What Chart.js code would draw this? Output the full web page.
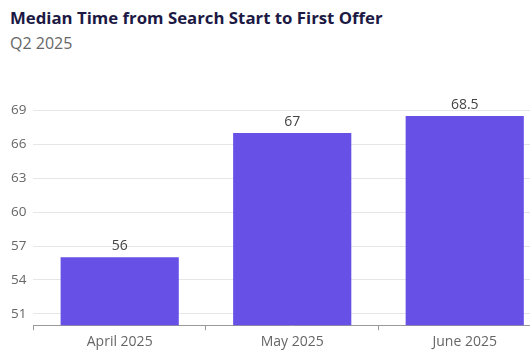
<!DOCTYPE html>
<html>
<head>
<meta charset="utf-8">
<script src="https://cdn.jsdelivr.net/npm/chart.js@4.4.1/dist/chart.umd.min.js"></script>
<style>
  html, body { margin: 0; padding: 0; width: 530px; height: 354px; overflow: hidden; background: #fff; font-family: "Open Sans", sans-serif; }
  #title { position: absolute; left: 10px; top: 6px; font-size: 16.8px; font-weight: 700; color: #1c1944; white-space: nowrap; }
  #subtitle { position: absolute; left: 10px; top: 32px; font-size: 16px; color: #666; }
  #wrap { position: absolute; left: 0; top: 62px; width: 551px; height: 292px; }
</style>
</head>
<body>
<div id="title">Median Time from Search Start to First Offer</div>
<div id="subtitle">Q2 2025</div>
<div id="wrap"><canvas id="chart"></canvas></div>
<script>
// data
const months = ['April 2025', 'May 2025', 'June 2025'];
const medianDays = [56, 67, 68.5];
const yTicks = [51, 54, 57, 60, 63, 66, 69];

const barColor = '#6650e6';

// draws the value above each bar
const valueLabels = {
  id: 'valueLabels',
  afterDatasetsDraw(chart) {
    const ctx = chart.ctx;
    const meta = chart.getDatasetMeta(0);
    ctx.save();
    ctx.font = '14px "Open Sans", sans-serif';
    ctx.fillStyle = '#444';
    ctx.textAlign = 'center';
    ctx.textBaseline = 'bottom';
    meta.data.forEach((bar, i) => {
      ctx.fillText(String(medianDays[i]), bar.x, bar.y - 4);
    });
    ctx.restore();
  }
};

Chart.defaults.font.family = '"Open Sans", sans-serif';
Chart.defaults.font.size = 14;
Chart.defaults.color = '#666';

new Chart(document.getElementById('chart'), {
  type: 'bar',
  data: {
    labels: months,
    datasets: [{
      data: medianDays,
      backgroundColor: barColor,
      barPercentage: 0.685,
      categoryPercentage: 1
    }]
  },
  options: {
    responsive: true,
    maintainAspectRatio: false,
    animation: false,
    layout: { padding: { left: 4, right: 0, top: 37, bottom: 1 } },
    plugins: {
      legend: { display: false },
      tooltip: { enabled: false }
    },
    scales: {
      x: {
        grid: { display: true, drawOnChartArea: false, offset: true, tickLength: 5, color: '#999' },
        border: { color: '#999' },
        ticks: { padding: 3, color: '#666' }
      },
      y: {
        min: 50,
        max: 70,
        afterBuildTicks(scale) {
          scale.ticks = yTicks.map(v => ({ value: v }));
        },
        grid: { color: '#e6e6e6', drawTicks: false },
        border: { display: false },
        ticks: { padding: 7, color: '#666', font: { size: 13.5 } }
      }
    }
  },
  plugins: [valueLabels]
});
</script>
</body>
</html>
